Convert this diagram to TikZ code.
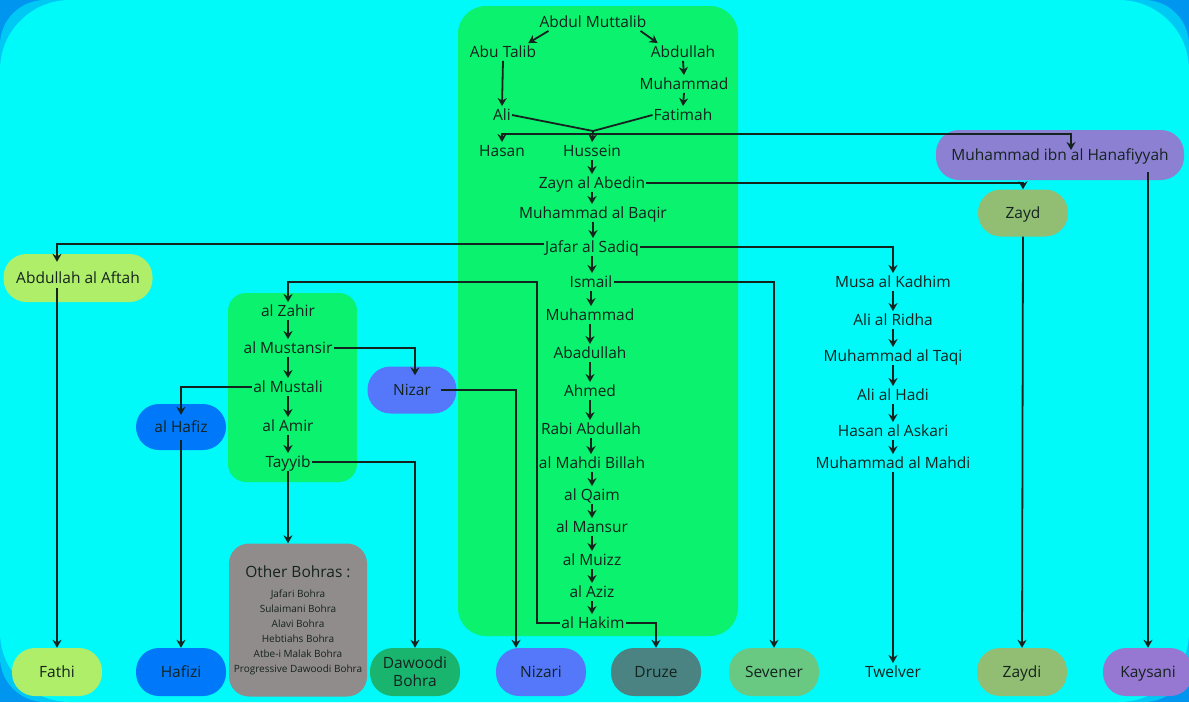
\documentclass[tikz,border=0pt]{standalone}
\usepackage{fontspec}
\setmainfont{Open Sans}
\usetikzlibrary{arrows.meta}
\usetikzlibrary{calc}

\definecolor{bgcyan}{RGB}{0,250,250}
\definecolor{bgblue}{RGB}{0,150,240}
\definecolor{imamgreen}{RGB}{10,242,110}
\definecolor{aftahcol}{RGB}{175,238,105}
\definecolor{hanafcol}{RGB}{140,128,210}
\definecolor{zaydcol}{RGB}{145,190,115}
\definecolor{nizarcol}{RGB}{85,120,250}
\definecolor{hafizcol}{RGB}{0,120,250}
\definecolor{bohragray}{RGB}{145,140,140}
\definecolor{dawoodicol}{RGB}{25,180,110}
\definecolor{druzecol}{RGB}{75,130,130}
\definecolor{sevenercol}{RGB}{105,200,130}
\definecolor{kaysanicol}{RGB}{150,120,210}
\definecolor{inktext}{RGB}{20,35,30}
\newcommand\bohrafont{\fontsize{10}{15}\selectfont}

\begin{document}
\begin{tikzpicture}[x=1pt,y=-1pt,
  every node/.style={font=\fontsize{15.5}{18}\selectfont,text=inktext,inner sep=1pt,text height=13pt,text depth=2.5pt},
  arr/.style={draw=inktext,line width=1.8pt,-{Stealth[length=8pt,width=9pt]}},
  link/.style={draw=inktext,line width=1.8pt},
  sect/.style={rounded corners=23pt,minimum width=90pt,minimum height=48pt,inner sep=3pt}]
  \useasboundingbox (0,0) rectangle (1189,702);
  \fill[bgblue] (0,0) rectangle (1189,702);
  \fill[bgcyan,opacity=.5,rounded corners=45pt] (0,0) rectangle (1189,702);
  \fill[bgcyan,rounded corners=70pt] (0,0) rectangle (1189,702);
  \fill[imamgreen,rounded corners=28pt] (458,6) rectangle (738,636);
  \fill[imamgreen,rounded corners=18pt] (228,293) rectangle (357,482);

  \node (muttalib) at (593,22) {Abdul Muttalib};
  \node (abutalib) at (503,52) {Abu Talib};
  \node (abdullah) at (683,52) {Abdullah};
  \node (muhammad) at (684,84) {Muhammad};
  \node (ali) at (502,115) {Ali};
  \node (fatimah) at (683,115) {Fatimah};
  \node (hasan) at (502,151) {Hasan};
  \node (hussein) at (592,151) {Hussein};
  \node (zayn) at (592,183) {Zayn al Abedin};
  \node (baqir) at (593,213) {Muhammad al Baqir};
  \node (jafar) at (592,247) {Jafar al Sadiq};
  \node (ismail) at (591,282) {Ismail};
  \node (imuh) at (590,315) {Muhammad};
  \node (abad) at (590,353) {Abadullah};
  \node (ahmed) at (590,391) {Ahmed};
  \node (rabi) at (591,429) {Rabi Abdullah};
  \node (mahdib) at (592,463) {al Mahdi Billah};
  \node (qaim) at (592,495) {al Qaim};
  \node (mansur) at (592,527) {al Mansur};
  \node (muizz) at (592,560) {al Muizz};
  \node (aziz) at (592,592) {al Aziz};
  \node (hakim) at (593,623) {al Hakim};

  \node (zahir) at (288,311) {al Zahir};
  \node (mustansir) at (288,348) {al Mustansir};
  \node (mustali) at (288,387) {al Mustali};
  \node (amir) at (288,426) {al Amir};
  \node (tayyib) at (288,462) {Tayyib};

  \node (musa) at (893,282) {Musa al Kadhim};
  \node (ridha) at (893,320) {Ali al Ridha};
  \node (taqi) at (893,356) {Muhammad al Taqi};
  \node (hadi) at (893,395) {Ali al Hadi};
  \node (askari) at (893,431) {Hasan al Askari};
  \node (mmahdi) at (893,463) {Muhammad al Mahdi};

  \node[sect,fill=hanafcol,minimum width=248pt,minimum height=50pt] (hanafiyyah) at (1060,155) {Muhammad ibn al Hanafiyyah};
  \node[sect,fill=zaydcol,minimum height=47pt] (zayd) at (1023,213) {Zayd};
  \node[sect,fill=aftahcol,minimum width=149pt] (aftah) at (78,278) {Abdullah al Aftah};
  \node[sect,fill=nizarcol,minimum width=89pt,minimum height=47pt] (nizar) at (412,390) {Nizar};
  \node[sect,fill=hafizcol,minimum height=46pt] (hafiz) at (181,427) {al Hafiz};
  \node[fill=bohragray,rounded corners=20pt,minimum width=138pt,minimum height=153pt,align=center,text height=,text depth=] (bohras) at (298,620)
    {Other Bohras :\\[2pt]
     {\bohrafont Jafari Bohra}\\[-3pt] {\bohrafont Sulaimani Bohra}\\[-3pt] {\bohrafont Alavi Bohra}\\[-3pt]
     {\bohrafont Hebtiahs Bohra}\\[-3pt] {\bohrafont Atbe-i Malak Bohra}\\[-3pt] {\bohrafont Progressive Dawoodi Bohra}};

  \node[sect,fill=aftahcol] (fathi) at (57,672) {Fathi};
  \node[sect,fill=hafizcol] (hafizi) at (181,672) {Hafizi};
  \node[sect,fill=dawoodicol,align=center,text height=,text depth=,font=\fontsize{15.5}{18}\selectfont] (dawoodi) at (415,672) {Dawoodi\\Bohra};
  \node[sect,fill=nizarcol] (nizari) at (541,672) {Nizari};
  \node[sect,fill=druzecol] (druze) at (656,672) {Druze};
  \node[sect,fill=sevenercol] (sevener) at (774,672) {Sevener};
  \node (twelver) at (893,672) {Twelver};
  \node[sect,fill=zaydcol] (zaydi) at (1022,672) {Zaydi};
  \node[sect,fill=kaysanicol] (kaysani) at (1148,672) {Kaysani};

  \draw[arr] ([xshift=10pt]muttalib.south west) -- ([xshift=-9pt]abutalib.north east);
  \draw[arr] ([xshift=-7pt]muttalib.south east) -- ([xshift=8pt]abdullah.north west);
  \draw[arr] (abutalib.south) -- (ali.north);
  \draw[arr] (abdullah.south) -- (muhammad.north);
  \draw[arr] (muhammad.south) -- (fatimah.north);
  \coordinate (union) at (593,131);
  \coordinate (sons) at (593,134);
  \draw[link] (ali.east) -- (union) -- (fatimah.west);
  \draw[arr] (union) -- (hussein.north);
  \draw[arr] (sons) -| (hasan.north);
  \draw[arr] (sons) -| ($(hanafiyyah.center)+(11,-5)$);
  \draw[arr] ($(hanafiyyah.south -| kaysani.north)+(0,-8)$) -- (kaysani.north);
  \draw[arr] (zayn.east) -| (zayd.north);
  \draw[arr] (zayd.south) -- (zaydi.north);
  \draw[arr] ([yshift=3pt]jafar.west) -| ($(aftah.north -| fathi.north)+(0,8)$);
  \draw[arr] ($(aftah.center -| fathi.north)+(0,10)$) -- (fathi.north);
  \draw[arr] (jafar.east) -| (musa.north);
  \draw[arr] (ismail.east) -| (sevener.north);
  \coordinate (zbend) at (537,282);
  \draw[arr] (hakim.west) -| (zbend) -| (zahir.north);
  \draw[arr] (hakim.east) -| (druze.north);
  \draw[arr] (mustansir.east) -| ($(nizar.north)+(3,9)$);
  \draw[arr] ($(nizar.east)+(-16,0)$) -| ([xshift=-25pt]nizari.north);
  \draw[arr] (mustali.west) -| ($(hafiz.north)+(0,11)$);
  \draw[arr] ($(hafiz.center)+(0,13)$) -- (hafizi.north);
  \draw[arr] (tayyib.east) -| (dawoodi.north);
  \draw[arr] (tayyib.south) -- (tayyib.south |- bohras.north);
  \draw[arr] (mmahdi.south) -- (twelver.north);
  \foreach \a/\b in {hussein/zayn,zayn/baqir,baqir/jafar,jafar/ismail,ismail/imuh,imuh/abad,abad/ahmed,ahmed/rabi,rabi/mahdib,mahdib/qaim,qaim/mansur,mansur/muizz,muizz/aziz,aziz/hakim,zahir/mustansir,mustansir/mustali,mustali/amir,amir/tayyib,musa/ridha,ridha/taqi,taqi/hadi,hadi/askari,askari/mmahdi}
    \draw[arr] (\a.south) -- (\a.south |- \b.north);
\end{tikzpicture}
\end{document}
